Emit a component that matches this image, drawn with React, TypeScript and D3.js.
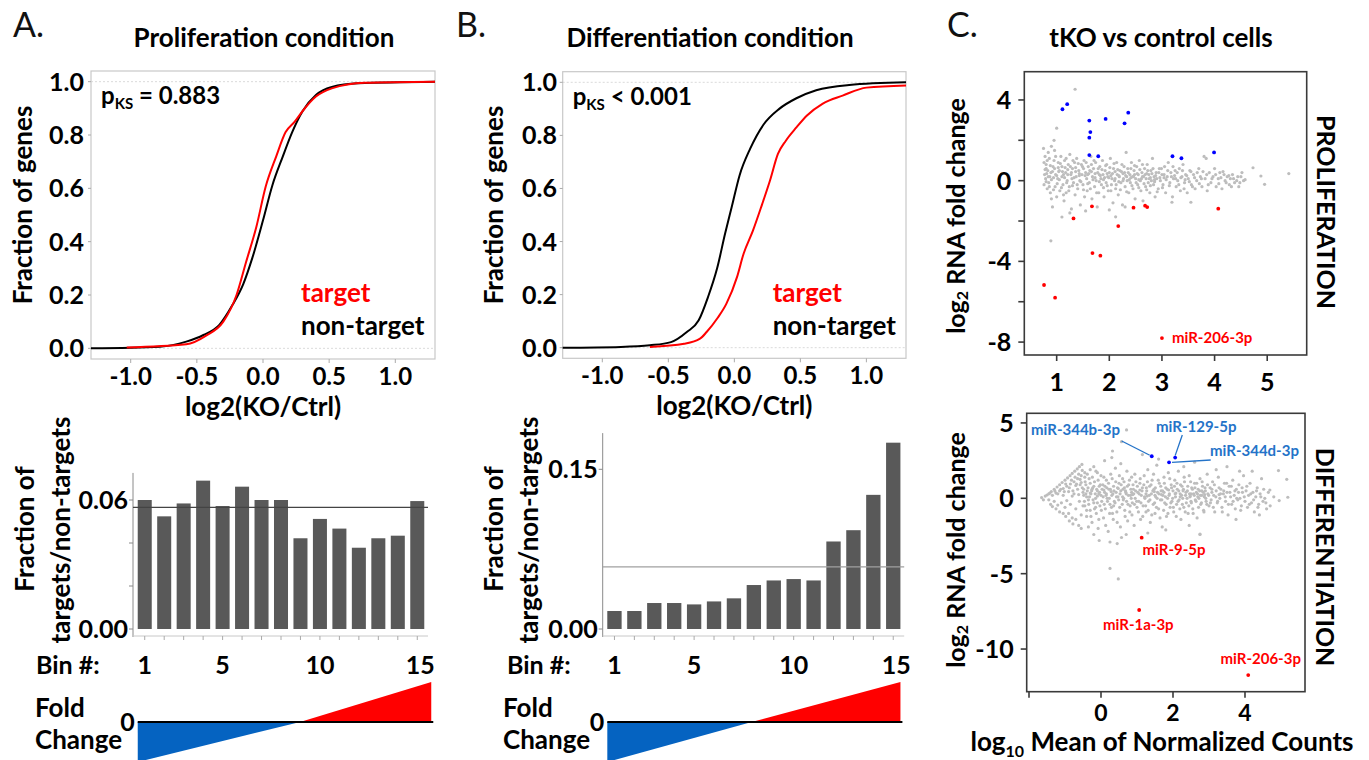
import React from 'react';
import * as d3 from 'd3';

const FONT = "Lato, 'Open Sans', sans-serif";
const RED = '#ff0000';
const BLUE_FC = '#0563c1';
const LABEL_BLUE = '#2473c8';
const GRAY_PT = '#bdbdbd';
const BAR = '#595959';

// ---- A/B: cumulative fraction of genes vs log2(KO/Ctrl) ----
const prolifNonTarget: [number, number][] = [
  [-1.3, 0], [-0.78, 0.006], [-0.58, 0.025], [-0.45, 0.05], [-0.33, 0.088], [-0.23, 0.163],
  [-0.15, 0.24], [-0.08, 0.34], [0, 0.48], [0.07, 0.61], [0.15, 0.72], [0.22, 0.81],
  [0.3, 0.89], [0.4, 0.95], [0.52, 0.98], [0.72, 0.994], [1.3, 1],
];
const prolifTarget: [number, number][] = [
  [-1.03, 0.003], [-0.58, 0.015], [-0.43, 0.048], [-0.3, 0.1], [-0.2, 0.2], [-0.13, 0.32],
  [-0.05, 0.456], [0.02, 0.606], [0.1, 0.72], [0.17, 0.81], [0.24, 0.85], [0.3, 0.89],
  [0.4, 0.944], [0.52, 0.975], [0.77, 0.996], [1.3, 1],
];
const diffNonTarget: [number, number][] = [
  [-1.3, 0], [-0.86, 0.003], [-0.64, 0.009], [-0.48, 0.021], [-0.36, 0.059], [-0.27, 0.103],
  [-0.2, 0.19], [-0.13, 0.3], [-0.07, 0.43], [-0.02, 0.53], [0.04, 0.65], [0.12, 0.75],
  [0.22, 0.84], [0.34, 0.9], [0.47, 0.94], [0.62, 0.97], [0.87, 0.99], [1.3, 1],
];
const diffTarget: [number, number][] = [
  [-0.64, 0.003], [-0.38, 0.015], [-0.26, 0.034], [-0.21, 0.059], [-0.13, 0.11], [-0.06, 0.166],
  [0.02, 0.266], [0.07, 0.354], [0.14, 0.44], [0.21, 0.54], [0.27, 0.63], [0.33, 0.73],
  [0.39, 0.78], [0.47, 0.83], [0.55, 0.875], [0.67, 0.92], [0.82, 0.95], [1.0, 0.98], [1.3, 0.988],
];
const cdfTicksX = [-1, -0.5, 0, 0.5, 1];
const cdfTicksY = [0, 0.2, 0.4, 0.6, 0.8, 1];

// ---- A/B: fraction of targets / non-targets per fold-change bin ----
const bins = [1, 2, 3, 4, 5, 6, 7, 8, 9, 10, 11, 12, 13, 14, 15];
const binLabels = [1, 5, 10, 15];
const prolifBinFraction = [0.06, 0.0524, 0.0584, 0.069, 0.0572, 0.0662, 0.06, 0.06, 0.0422, 0.0512, 0.0467, 0.0378, 0.0422, 0.0434, 0.0595];
const diffBinFraction = [0.0169, 0.0169, 0.0244, 0.0244, 0.0231, 0.0259, 0.0288, 0.0413, 0.0456, 0.0469, 0.0456, 0.0822, 0.0928, 0.126, 0.175];
const prolifOverall = 0.0566;
const diffOverall = 0.0584;

// ---- C: MA plots, [log10 mean count, log2 fold change] ----
const prolifGray: [number, number][] = [
  [0.75, 1.6], [0.78, 1.2], [0.76, 0.9], [0.8, 0.6], [0.77, 0.3], [0.79, 0.1], [0.76, -0.2], [0.82, -0.4], [0.8, 0.8], [0.84, 1.4],
  [0.86, 1.1], [0.83, 0.5], [0.87, 0.2], [0.85, -0.1], [0.88, -0.6], [0.9, -0.9], [0.92, -1.3], [0.89, 0.4], [0.93, 0.7], [0.95, 1.0],
  [0.9, 1.7], [0.96, 1.5], [0.98, 0.3], [0.97, -0.3], [1.0, -0.8], [1.02, 0.1], [1.03, 0.9], [1.05, 0.5], [1.06, -0.5], [1.08, 1.2],
  [1.1, 0.2], [1.12, -0.2], [1.1, 0.7], [1.14, -1.0], [1.15, 1.0], [1.17, 0.4], [1.18, -0.6], [1.2, 0.0], [1.22, 0.8], [1.24, -0.3],
  [1.25, 1.3], [1.27, 0.3], [1.28, -1.4], [1.3, 0.6], [1.32, -0.1], [1.34, 0.9], [1.35, -0.7], [1.37, 0.2], [1.38, 1.1], [1.4, -0.4],
  [1.42, 0.5], [1.44, 0.0], [1.45, -1.2], [1.47, 0.8], [1.48, 0.3], [1.5, -0.2], [1.52, 1.0], [1.53, -0.8], [1.55, 0.4], [1.57, 0.1],
  [1.58, -0.5], [1.6, 0.7], [1.62, -0.1], [1.63, 0.5], [1.65, 1.2], [1.67, -0.9], [1.68, 0.2], [1.7, 0.6], [1.72, -0.3], [1.74, 0.9],
  [1.75, 0.0], [1.77, -1.3], [1.78, 0.4], [1.8, -0.6], [1.82, 0.7], [1.84, 0.1], [1.85, -0.2], [1.87, 1.0], [1.88, 0.3], [1.9, -0.8],
  [1.92, 0.5], [1.94, -0.1], [1.95, 0.8], [1.97, 0.2], [1.98, -0.5], [2.0, 0.4], [2.02, 1.1], [2.04, -0.2], [2.05, 0.1], [2.07, -1.1],
  [2.08, 0.6], [2.1, 0.0], [2.12, -0.4], [2.14, 0.9], [2.15, 0.3], [2.17, -0.7], [2.19, 0.2], [2.2, 0.5], [2.22, -0.1], [2.24, 0.8],
  [2.25, -1.2], [2.27, 0.1], [2.29, 0.4], [2.3, -0.3], [2.32, 1.4], [2.34, 0.0], [2.35, 0.6], [2.37, -0.6], [2.39, 0.3], [2.4, -0.1],
  [2.42, 0.9], [2.44, 0.2], [2.45, -0.4], [2.47, 0.5], [2.49, -0.9], [2.5, 0.1], [2.52, 0.7], [2.54, -0.2], [2.55, 0.3], [2.57, 1.0],
  [2.59, 0.0], [2.6, -0.5], [2.62, 0.4], [2.64, -1.0], [2.65, 0.2], [2.67, 0.6], [2.69, -0.3], [2.7, 0.1], [2.72, 0.8], [2.74, -0.1],
  [2.75, 0.3], [2.77, -0.6], [2.79, 0.5], [2.8, 0.0], [2.82, 1.1], [2.84, -0.2], [2.85, 0.2], [2.87, -0.8], [2.89, 0.4], [2.9, 0.1],
  [2.93, -0.4], [2.95, 0.6], [2.97, 0.0], [3.0, 0.3], [3.02, -0.2], [3.05, 0.7], [3.07, -0.6], [3.1, 0.2], [3.12, 0.9], [3.15, -0.1],
  [3.17, 0.4], [3.2, -0.8], [3.22, 0.1], [3.25, 0.5], [3.27, -0.3], [3.3, 0.0], [3.33, 0.6], [3.35, -0.5], [3.38, 0.2], [3.4, 0.8],
  [3.43, -0.1], [3.45, 0.3], [3.48, -0.6], [3.5, 0.1], [3.53, 0.5], [3.56, -0.2], [3.6, 0.3], [3.63, -0.4], [3.66, 0.0], [3.7, 0.6],
  [3.73, 0.2], [3.76, -0.3], [3.8, 1.2], [3.84, 1.1], [3.82, 0.1], [3.86, -0.5], [3.9, 0.4], [3.93, -0.1], [3.97, 0.2], [4.0, 0.6],
  [4.03, -0.3], [4.07, 0.1], [4.1, 0.4], [4.14, -0.4], [4.18, 0.3], [4.2, 0.0], [4.24, 0.2], [4.28, -0.2], [4.3, 0.1], [4.34, 0.3],
  [4.38, -0.1], [4.42, 0.0], [4.46, -0.3], [4.5, 0.2], [4.55, 0.0],
  [0.81, 0.35], [0.94, 0.15], [1.04, 0.45], [1.13, 0.3], [1.21, 0.55], [1.29, 0.1], [1.36, 0.45], [1.43, 0.25], [1.51, 0.6], [1.59, 0.3],
  [1.66, 0.45], [1.73, 0.15], [1.81, 0.3], [1.89, 0.05], [1.96, 0.35], [2.03, 0.25], [2.11, 0.45], [2.18, -0.05], [2.26, 0.35], [2.33, 0.2],
  [2.41, 0.15], [2.48, 0.3], [2.56, 0.05], [2.63, 0.2], [2.71, 0.35], [2.78, 0.15], [2.86, 0.05], [3.04, 0.15], [3.24, 0.25], [3.44, 0.05],
  [0.78, 0.55], [0.8, -0.05], [0.82, 1.0], [0.84, 0.2], [0.86, -0.3], [0.88, 0.75], [0.9, 0.05], [0.92, 0.45], [0.94, -0.45], [0.96, 0.6],
  [0.98, 1.2], [1.0, 0.25], [1.01, -0.15], [1.03, 0.65], [1.05, 0.05], [1.07, 0.85], [1.09, -0.35], [1.11, 0.45], [1.13, -0.7], [1.15, 0.15],
  [1.16, 0.65], [1.18, 1.1], [1.19, -0.1], [1.21, 0.3], [1.23, -0.5], [1.26, 0.7], [1.28, 0.4], [1.3, -0.25], [1.31, 1.0], [1.33, 0.15],
  [1.36, 0.65], [1.39, -0.2], [1.41, 0.85], [1.43, 0.35], [1.46, -0.05], [1.49, 0.7], [1.51, -0.45], [1.54, 0.25], [1.56, 0.9], [1.59, -0.15],
  [1.61, 0.35], [1.64, -0.4], [1.66, 0.8], [1.69, 0.05], [1.71, 1.0], [1.73, 0.35], [1.76, -0.6], [1.79, 0.6], [1.81, -0.05], [1.83, 0.25],
  [1.86, 0.55], [1.89, -0.35], [1.91, 0.15], [1.93, 0.75], [1.96, -0.25], [1.99, 0.15], [2.01, 0.65], [2.03, -0.5], [2.06, 0.35], [2.09, 0.85],
  [2.11, 0.1], [2.13, -0.2], [2.16, 0.55], [2.18, 0.25], [2.21, -0.45], [2.23, 0.45], [2.26, 0.0], [2.28, 0.7], [2.31, 0.25], [2.33, -0.55],
  [2.36, 0.4], [2.38, 0.05], [2.41, 0.6], [2.43, -0.25], [2.46, 0.2], [2.48, 0.75], [2.51, -0.1], [2.53, 0.35], [2.56, -0.35], [2.58, 0.55],
  [2.61, 0.1], [2.63, 0.8], [2.66, -0.15], [2.68, 0.3], [2.71, -0.45], [2.73, 0.5], [2.76, 0.1], [2.78, -0.25], [2.81, 0.35], [2.83, 0.6],
  [2.86, -0.05], [2.88, 0.25], [2.91, -0.55], [2.94, 0.4], [2.96, 0.15], [2.99, 0.6], [3.01, -0.35], [3.04, 0.3], [3.08, 0.05], [3.11, 0.5],
  [3.14, -0.25], [3.18, 0.2], [3.21, 0.7], [3.26, 0.1], [3.29, 0.4], [3.32, -0.2], [3.36, 0.15], [3.39, 0.5], [3.42, -0.4], [3.47, 0.25],
  [3.52, -0.05], [3.55, 0.45], [3.58, -0.3], [3.62, 0.15], [3.67, 0.4], [3.71, -0.15], [3.75, 0.1], [3.78, 0.45], [3.85, 0.3], [3.88, -0.2],
  [3.95, 0.1], [4.02, 0.3], [4.08, -0.15], [4.12, 0.15], [4.16, 0.45], [4.22, -0.1], [4.27, 0.25], [4.32, -0.3], [4.36, 0.1], [4.44, 0.2],
  [4.48, -0.1], [4.52, 0.4], [4.58, 0.05],
  [1.35, 4.53], [1.0, 2.6], [0.95, 2.0], [0.89, -2.98], [1.1, -1.8], [4.73, 0.64], [4.88, 0.23], [4.95, -0.18], [5.41, 0.35], [3.55, -1.07],
  [3.19, -1.07], [2.12, -1.79], [1.55, -1.5], [2.0, -1.45], [2.3, -1.3], [1.25, -1.6],
];
const prolifUp: [number, number][] = [
  [1.11, 3.54], [1.2, 3.79], [1.62, 2.98], [1.93, 3.06], [2.36, 3.37], [2.29, 2.84], [1.64, 2.41],
  [1.62, 2.13], [1.62, 1.27], [1.79, 1.21], [3.2, 1.21], [3.37, 1.11], [3.99, 1.4],
];
const prolifDown: [number, number][] = [
  [1.67, -1.27], [1.32, -1.87], [2.46, -1.34], [2.68, -1.24], [2.72, -1.31], [2.17, -2.25],
  [4.07, -1.39], [1.68, -3.59], [1.83, -3.72], [0.76, -5.17], [0.97, -5.8], [3.0, -7.8],
];

const diffGray: [number, number][] = [
  // low-count fan
  [-1.65, 0.05], [-1.55, 0.15], [-1.45, 0.3], [-1.38, 0.45], [-1.3, 0.6], [-1.22, 0.75], [-1.15, 0.9], [-1.08, 1.05], [-1.0, 1.2],
  [-0.93, 1.35], [-0.86, 1.5], [-0.8, 1.65], [-0.73, 1.8], [-0.66, 1.95], [-0.6, 2.1], [-0.53, 2.25], [-1.25, 0.35], [-1.15, 0.5],
  [-1.05, 0.65], [-0.95, 0.8], [-0.85, 0.95], [-0.75, 1.1], [-0.65, 1.3], [-0.55, 1.5], [-0.45, 1.7], [-1.45, -0.1], [-1.4, -0.4],
  [-1.3, -0.2], [-1.2, -0.45], [-1.1, -0.3], [-1.0, -0.6], [-0.95, -0.15], [-0.9, -1.0], [-0.85, -0.4], [-0.8, -1.3], [-0.75, 0.3],
  [-0.7, -0.7], [-0.65, 0.6], [-0.6, -0.2], [-0.58, 0.9], [-0.55, -1.1], [-0.5, 0.4], [-1.05, 0.2], [-0.9, 0.45], [-0.8, 0.15],
  [-0.7, 0.85], [-0.62, 0.25], [-0.55, 1.05], [-0.5, -0.5], [-0.52, 0.7],
  [-1.5, 0.22], [-1.42, 0.35], [-1.35, 0.2], [-1.28, 0.48], [-1.2, 0.3], [-1.12, 0.6], [-1.02, 0.45], [-0.98, 0.95], [-0.88, 0.7],
  [-0.82, 1.2], [-0.78, 0.5], [-0.72, 1.4], [-0.68, 0.95], [-0.62, 1.6], [-0.58, 1.25], [-0.52, 1.85], [-1.6, -0.1], [-1.35, -0.55],
  [-1.25, -0.7], [-1.15, -0.9], [-1.05, -1.0], [-0.98, -1.2], [-0.88, -1.5], [-0.78, -1.7], [-0.7, -1.4], [-0.62, -1.8], [-0.55, -2.0],
  // main cloud
  [-0.48, 0.2], [-0.45, -0.5], [-0.42, 0.9], [-0.4, -1.2], [-0.38, 0.5], [-0.35, -0.1], [-0.33, 1.3], [-0.3, -0.8], [-0.28, 0.3],
  [-0.25, -1.6], [-0.23, 0.7], [-0.2, -0.3], [-0.18, 1.1], [-0.15, 0.0], [-0.13, -1.0], [-0.1, 0.5], [-0.08, -2.0], [-0.05, 0.8],
  [-0.03, -0.5], [0.0, 1.5], [0.0, 0.2], [-0.45, 1.4], [-0.3, 1.9], [-0.2, 2.1], [-0.1, 1.7], [-0.35, -1.9], [-0.2, -2.4],
  [-0.05, -2.8], [-0.4, 0.1], [-0.25, 0.6], [-0.15, -0.6], [-0.06, 0.3],
  [0.02, -0.2], [0.05, 0.9], [0.07, -1.3], [0.1, 0.4], [0.12, -0.7], [0.15, 1.2], [0.17, 0.0], [0.2, -2.2], [0.22, 0.6], [0.25, -0.4],
  [0.27, 1.6], [0.3, 0.2], [0.32, -1.0], [0.35, 0.8], [0.37, -0.2], [0.4, 2.0], [0.42, 0.4], [0.45, -1.6], [0.47, 0.1], [0.5, 1.0],
  [0.52, -0.6], [0.55, 0.5], [0.57, -2.6], [0.6, 1.3], [0.62, -0.1], [0.65, 0.7], [0.67, -1.2], [0.7, 0.3], [0.72, 1.8], [0.75, -0.4],
  [0.77, 0.9], [0.8, -0.9], [0.82, 0.2], [0.85, 1.4], [0.87, -0.3], [0.9, 0.6], [0.92, -1.8], [0.95, 0.0], [0.97, 1.1], [1.0, -0.6],
  [0.1, 2.5], [0.3, 2.7], [0.55, 2.3], [0.25, -2.9], [0.45, -3.0], [0.7, -2.4], [0.15, 0.3], [0.35, -0.5], [0.6, 0.1], [0.85, 0.4],
  [1.02, 0.4], [1.05, -0.2], [1.08, 1.0], [1.1, -1.4], [1.12, 0.2], [1.15, 0.7], [1.17, -0.5], [1.2, 1.5], [1.22, 0.0], [1.25, -0.9],
  [1.27, 0.5], [1.3, 1.9], [1.32, -0.2], [1.35, 0.8], [1.37, -1.6], [1.4, 0.3], [1.42, 1.2], [1.45, -0.4], [1.47, 0.6], [1.5, -1.0],
  [1.52, 0.1], [1.55, 2.2], [1.57, 0.4], [1.6, -0.7], [1.62, 1.0], [1.65, -0.1], [1.67, 0.5], [1.7, -1.9], [1.72, 0.2], [1.75, 1.4],
  [1.77, -0.3], [1.8, 0.7], [1.82, -1.2], [1.85, 0.0], [1.87, 1.7], [1.9, 0.3], [1.92, -0.6], [1.95, 0.9], [1.97, -0.2], [2.0, 0.5],
  [1.3, -2.3], [1.6, 2.6], [1.15, 2.9], [1.8, -2.1], [1.25, 0.3], [1.5, 0.2], [1.75, 0.4],
  [2.02, -0.9], [2.05, 1.2], [2.07, 0.1], [2.1, -0.4], [2.12, 0.6], [2.15, 1.8], [2.17, -0.1], [2.2, 0.3], [2.22, -1.4], [2.25, 0.8],
  [2.27, 0.0], [2.3, -0.6], [2.32, 1.1], [2.35, 0.2], [2.37, -0.3], [2.4, 0.5], [2.42, -1.0], [2.45, 1.5], [2.47, 0.1], [2.5, -0.2],
  [2.52, 0.7], [2.55, -0.7], [2.57, 0.3], [2.6, 1.0], [2.62, -0.1], [2.65, 0.4], [2.67, -1.3], [2.7, 0.6], [2.72, 0.0], [2.75, 1.3],
  [2.77, -0.4], [2.8, 0.2], [2.82, 0.8], [2.85, -0.8], [2.87, 0.1], [2.9, 0.5], [2.92, -0.2], [2.95, 1.6], [2.97, 0.3], [3.0, -0.5],
  [2.3, 2.1], [2.6, 2.4], [2.75, -2.4], [2.45, -1.8], [2.2, 0.1], [2.5, 0.3], [2.8, 0.5],
  [3.03, 0.7], [3.06, -0.1], [3.1, 1.1], [3.13, 0.2], [3.16, -0.9], [3.2, 0.5], [3.23, -0.3], [3.26, 1.4], [3.3, 0.0], [3.33, 0.6],
  [3.36, -0.6], [3.4, 0.3], [3.43, 1.0], [3.46, -0.2], [3.5, 0.4], [3.53, -1.1], [3.56, 0.8], [3.6, 0.1], [3.63, -0.4], [3.66, 1.2],
  [3.7, 0.2], [3.73, -0.7], [3.76, 0.6], [3.8, -0.1], [3.83, 0.9], [3.86, 0.0], [3.9, -0.5], [3.93, 0.4], [3.96, 1.5], [4.0, -0.2],
  [3.2, 1.9], [3.5, 2.1], [3.75, -1.4], [3.85, 1.8],
  [4.03, 0.5], [4.07, -0.6], [4.1, 0.2], [4.14, 1.0], [4.18, -0.3], [4.22, 0.4], [4.26, -0.9], [4.3, 0.1], [4.34, 0.7], [4.38, -0.4],
  [4.42, 0.3], [4.46, 1.3], [4.5, -0.2], [4.55, 0.0], [4.6, -0.7], [4.65, 0.4], [4.2, 1.8], [4.4, -1.1],
  [-0.3, 0.35], [-0.1, 0.15], [0.08, 0.55], [0.28, 0.45], [0.48, 0.65], [0.68, 0.5], [0.88, 0.25], [1.08, 0.55], [1.28, 0.15],
  [1.48, 0.45], [1.68, 0.25], [1.88, 0.55], [2.08, 0.35], [2.28, 0.5], [2.48, 0.15], [2.68, 0.3], [2.88, 0.25], [3.08, 0.4], [3.28, 0.25],
  [-0.48, 0.6], [-0.46, -0.2], [-0.44, 1.1], [-0.42, 0.3], [-0.4, -0.8], [-0.38, 1.6], [-0.36, 0.7], [-0.34, -0.4], [-0.32, 0.1], [-0.3, 1.0],
  [-0.28, -1.2], [-0.26, 0.5], [-0.24, 1.4], [-0.22, -0.1], [-0.2, 0.8], [-0.18, -0.7], [-0.16, 0.3], [-0.14, 1.8], [-0.12, 0.6], [-0.1, -0.3],
  [-0.08, 1.2], [-0.06, -1.4], [-0.04, 0.4], [-0.02, 0.9], [0.01, -0.8], [0.03, 0.6], [0.06, 0.1], [0.08, 1.4], [0.09, -0.4], [0.11, 0.8],
  [0.13, -1.8], [0.14, 0.2], [0.16, 0.7], [0.18, -0.2], [0.21, 1.0], [0.23, 0.0], [0.24, -1.0], [0.26, 0.6], [0.29, -0.6], [0.31, 1.3],
  [0.33, 0.3], [0.34, -1.4], [0.36, 0.5], [0.39, -0.3], [0.41, 1.1], [0.43, 0.1], [0.44, -0.9], [0.46, 0.7], [0.49, -0.1], [0.51, 1.5],
  [0.53, 0.3], [0.54, -1.9], [0.56, 0.9], [0.59, -0.4], [0.61, 0.6], [0.63, 0.0], [0.64, 1.1], [0.66, -0.8], [0.69, 0.4], [0.71, -0.2],
  [0.73, 0.8], [0.74, -1.5], [0.76, 0.2], [0.79, 1.2], [0.81, -0.5], [0.83, 0.6], [0.84, 0.0], [0.86, -1.1], [0.89, 0.9], [0.91, 0.3],
  [0.93, -0.4], [0.94, 1.6], [0.96, 0.5], [0.99, -0.2], [1.01, 0.8], [1.04, -0.9], [1.06, 0.3], [1.09, 1.3], [1.11, -0.3], [1.14, 0.5],
  [1.16, -1.2], [1.19, 0.9], [1.21, 0.1], [1.24, -0.5], [1.26, 0.7], [1.29, 1.1], [1.31, -0.8], [1.34, 0.2], [1.36, -0.1], [1.39, 0.9],
  [1.41, -1.1], [1.44, 0.5], [1.46, 1.6], [1.49, -0.3], [1.51, 0.7], [1.54, -0.6], [1.56, 0.0], [1.59, 1.2], [1.61, 0.3], [1.64, -1.3],
  [1.66, 0.8], [1.69, -0.1], [1.71, 0.5], [1.74, -0.8], [1.76, 1.0], [1.79, 0.1], [1.81, -0.4], [1.84, 0.6], [1.86, -1.0], [1.89, 0.2],
  [1.91, 1.3], [1.94, -0.3], [1.96, 0.7], [1.99, 0.0], [2.01, -0.6], [2.04, 0.8], [2.06, 0.3], [2.09, -1.2], [2.11, 1.0], [2.14, -0.2],
  [2.16, 0.5], [2.19, -0.7], [2.21, 0.9], [2.24, 0.2], [2.26, -0.4], [2.29, 0.6], [2.31, 1.4], [2.34, -0.9], [2.36, 0.4], [2.39, 0.0],
  [2.41, 0.8], [2.44, -0.5], [2.46, 0.3], [2.49, 1.1], [2.51, -0.3], [2.54, 0.6], [2.56, -1.0], [2.59, 0.2], [2.61, 0.7], [2.64, -0.2],
  [2.66, 1.0], [2.69, 0.1], [2.71, -0.6], [2.74, 0.5], [2.76, 0.2], [2.79, -0.3], [2.81, 1.1], [2.84, 0.4], [2.86, -0.9], [2.89, 0.7],
  [2.91, 0.0], [2.94, -0.4], [2.96, 0.9], [2.99, 0.2], [3.04, -0.3], [3.08, 0.6], [3.12, -0.6], [3.15, 0.9], [3.19, 0.1], [3.24, -0.2],
  [3.28, 0.7], [3.32, 0.3], [3.37, -0.9], [3.41, 0.5], [3.45, 0.1], [3.49, 1.0], [3.54, -0.4], [3.58, 0.4], [3.62, 0.8], [3.67, -0.2],
  [3.72, 0.5], [3.77, 0.0], [3.82, 0.4], [3.88, -0.8], [3.92, 0.7], [3.98, 0.1], [4.05, 0.8], [4.12, -0.4], [4.16, 0.3], [4.24, -0.1],
  [4.32, 0.5], [4.36, -0.6], [4.44, 0.1], [4.52, 0.6], [4.58, -0.3], [4.7, -0.5], [4.8, 0.1],
  [0.71, 4.54], [0.57, 3.76], [0.32, 3.14], [0.25, -4.65], [0.48, -5.35], [2.75, -2.37], [4.93, 1.84], [5.16, 1.26], [5.19, 0.07],
  [4.95, -0.15], [4.69, 0.55],
];
const diffUp: [number, number][] = [[1.41, 2.79], [2.06, 2.7], [1.89, 2.39]];
const diffDown: [number, number][] = [[1.13, -2.61], [1.06, -7.41], [4.09, -11.73]];

const bold = { fontFamily: FONT, fontWeight: 700 } as const;
const TXT = 26;
const TICK = 25;

function PanelLetter({ x, label }: { x: number; label: string }) {
  return <text x={x} y={37} fontFamily={FONT} fontSize={34} fill="#111">{label}</text>;
}

function CdfPanel({ left, right, top, bottom, nonTarget, target, title, titleX, pText, yLabelX, tickRight }: any) {
  const x = d3.scaleLinear().domain([-1.3, 1.3]).range([left, right]);
  const y = d3.scaleLinear().domain([-0.04, 1.04]).range([bottom, top]);
  const line = d3.line<[number, number]>().x(d => x(d[0])).y(d => y(d[1])).curve(d3.curveMonotoneX);
  const cx = (left + right) / 2;
  return (
    <g>
      <text x={titleX} y={47} textAnchor="middle" fontSize={TXT} {...bold}>{title}</text>
      <rect x={left} y={top} width={right - left} height={bottom - top} fill="none" stroke="#c8c8c8" strokeWidth={1.2} />
      {[0, 1].map(v => (
        <line key={v} x1={left} x2={right} y1={y(v)} y2={y(v)} stroke="#d0d0d0" strokeDasharray="2,2" strokeWidth={0.8} />
      ))}
      {cdfTicksX.map(t => (
        <g key={t}>
          <line x1={x(t)} x2={x(t)} y1={bottom} y2={bottom + 4} stroke="#aaa" />
          <text x={x(t)} y={bottom + 26} textAnchor="middle" fontSize={24} {...bold}>{t.toFixed(1)}</text>
        </g>
      ))}
      {cdfTicksY.map(t => (
        <g key={t}>
          <line x1={left - 3} x2={left} y1={y(t)} y2={y(t)} stroke="#aaa" />
          <text x={tickRight} y={y(t)} dy="0.36em" textAnchor="end" fontSize={TICK} {...bold}>{t.toFixed(1)}</text>
        </g>
      ))}
      <text x={cx} y={bottom + 57} textAnchor="middle" fontSize={TXT} {...bold}>log2(KO/Ctrl)</text>
      <text transform={`translate(${yLabelX},205) rotate(-90)`} textAnchor="middle" dominantBaseline="central" fontSize={TXT} {...bold}>Fraction of genes</text>
      <path d={line(nonTarget) || ''} fill="none" stroke="#000" strokeWidth={2} />
      <path d={line(target) || ''} fill="none" stroke={RED} strokeWidth={2} />
      <text x={left + 10} y={top + 33} fontSize={24} {...bold}>
        p<tspan fontSize={15} dy={5}>KS</tspan><tspan dy={-5}>{pText}</tspan>
      </text>
      <text x={left + 210} y={302} fontSize={TXT} fill={RED} {...bold}>target</text>
      <text x={left + 210} y={335} fontSize={TXT} {...bold}>non-target</text>
    </g>
  );
}

function BinPanel({ axisX, range, values, overall, yMax, yTop, yAxisMax, yTicks, yLabels, refColor, binLabelX, foldLabelX, zeroBin, lineEnd, yLabelX1, yLabelX2 }: any) {
  const xb = d3.scaleBand<number>().domain(bins).range(range).paddingInner(0.28).paddingOuter(0.14);
  const y = d3.scaleLinear().domain([0, yMax]).range([629, yTop]);
  const axisRight = range[1] + 1;
  // fold-change wedge: position along bins, height by relative fold change
  const binPos = d3.scaleLinear().domain([1, 15]).range([xb(1)! + xb.bandwidth() / 2, xb(15)! + xb.bandwidth() / 2]);
  const fc = d3.scaleLinear().domain([-1, 0, 1]).range([762, 722, 682]);
  const start = xb(1)!;
  const end = xb(15)! + xb.bandwidth() + (lineEnd || 0);
  const zx = binPos(zeroBin);
  return (
    <g>
      <line x1={axisX} x2={axisX} y1={y(yAxisMax)} y2={637} stroke="#8a8a8a" />
      <line x1={axisX} x2={axisRight} y1={636} y2={636} stroke="#c8c8c8" />
      {bins.map(b => (
        <line key={b} x1={xb(b)! + xb.bandwidth() / 2} x2={xb(b)! + xb.bandwidth() / 2} y1={636} y2={640} stroke="#aaa" />
      ))}
      {yTicks.map((t: number) => (
        <line key={t} x1={axisX - 4} x2={axisX} y1={y(t)} y2={y(t)} stroke="#8a8a8a" />
      ))}
      {yLabels.map((t: number) => (
        <text key={t} x={axisX - 5} y={y(t)} dy="0.36em" textAnchor="end" fontSize={TICK} {...bold}>{t.toFixed(2)}</text>
      ))}
      {bins.map((b, i) => (
        <rect key={b} x={xb(b)} y={y(values[i])} width={xb.bandwidth()} height={y(0) - y(values[i])} fill={BAR} />
      ))}
      <line x1={axisX} x2={axisRight} y1={y(overall)} y2={y(overall)} stroke={refColor} strokeWidth={1.2} />
      <text transform={`translate(${yLabelX1},529) rotate(-90)`} textAnchor="middle" dominantBaseline="central" fontSize={TXT} {...bold}>Fraction of</text>
      <text transform={`translate(${yLabelX2},530) rotate(-90)`} textAnchor="middle" dominantBaseline="central" fontSize={TXT} {...bold}>targets/non-targets</text>
      <text x={binLabelX} y={674} fontSize={TICK} {...bold}>Bin #:</text>
      {binLabels.map(b => (
        <text key={b} x={xb(b)! + xb.bandwidth() / 2 + (b === 15 ? 3 : 0)} y={674} textAnchor="middle" fontSize={TICK} {...bold}>{b}</text>
      ))}
      <text x={foldLabelX} y={717} fontSize={TXT} {...bold}>Fold</text>
      <text x={foldLabelX} y={749} fontSize={TXT} {...bold}>Change</text>
      <text x={start - 3} y={722} dy="0.36em" textAnchor="end" fontSize={TICK} {...bold}>0</text>
      <polygon points={`${start},${fc(0)} ${zx},${fc(0)} ${start},${fc(-1)}`} fill={BLUE_FC} />
      <polygon points={`${zx},${fc(0)} ${end},${fc(0)} ${end},${fc(1)}`} fill={RED} />
      <line x1={start} x2={end + 2} y1={fc(0)} y2={fc(0)} stroke="#000" strokeWidth={2} />
    </g>
  );
}

function MaFrame({ x, y, xTicks, xTickLabels, yTicks, yTickLabels, xLabelY, xFont }: any) {
  const [l, r] = x.range();
  const [b, t] = y.range();
  return (
    <g>
      <rect x={l} y={t} width={r - l} height={b - t} fill="none" stroke="#3a3a3a" strokeWidth={1.6} />
      {xTicks.map((v: number) => (
        <line key={v} x1={x(v)} x2={x(v)} y1={b} y2={b + 6} stroke="#3a3a3a" strokeWidth={1.6} />
      ))}
      {xTickLabels.map((v: number) => (
        <text key={v} x={x(v)} y={xLabelY} textAnchor="middle" fontSize={xFont || TICK} {...bold}>{v}</text>
      ))}
      {yTicks.map((v: number) => (
        <line key={v} x1={l - 6} x2={l} y1={y(v)} y2={y(v)} stroke="#3a3a3a" strokeWidth={1.6} />
      ))}
      {yTickLabels.map((v: number) => (
        <text key={v} x={l - 13} y={y(v)} dy="0.36em" textAnchor="end" fontSize={TICK} {...bold}>{v}</text>
      ))}
    </g>
  );
}

function Dots({ pts, x, y, color, r }: any) {
  return (
    <g>
      {pts.map((p: [number, number], i: number) => (
        <circle key={i} cx={x(p[0])} cy={y(p[1])} r={r} fill={color} />
      ))}
    </g>
  );
}

function MaPanels() {
  const xTop = d3.scaleLinear().domain([0.385, 5.75]).range([1024.3, 1306.7]);
  const yTop = d3.scaleLinear().domain([-8.64, 5.4]).range([355, 71.7]);
  const xBot = d3.scaleLinear().domain([-2.064, 5.667]).range([1026.7, 1305]);
  const yBot = d3.scaleLinear().domain([-12.83, 5.64]).range([691.7, 413.3]);
  const labelStyle = { fontSize: 15, ...bold };
  return (
    <g>
      <text x={1161} y={47} textAnchor="middle" fontSize={TXT} {...bold}>tKO vs control cells</text>
      <MaFrame x={xTop} y={yTop} xTicks={[1, 2, 3, 4, 5]} xTickLabels={[1, 2, 3, 4, 5]}
        yTicks={[4, 2, 0, -2, -4, -6, -8]} yTickLabels={[4, 0, -4, -8]} xLabelY={391} />
      <Dots pts={prolifGray} x={xTop} y={yTop} color={GRAY_PT} r={1.6} />
      <Dots pts={prolifUp} x={xTop} y={yTop} color="#0000ff" r={1.9} />
      <Dots pts={prolifDown} x={xTop} y={yTop} color={RED} r={1.9} />
      <text x={xTop(3.0) + 10} y={yTop(-7.8)} dy="0.35em" fill={RED} {...labelStyle}>miR-206-3p</text>
      <text transform="translate(955,216) rotate(-90)" textAnchor="middle" dominantBaseline="central" fontSize={25} {...bold}>
        log<tspan fontSize={16} dy={6}>2</tspan><tspan dy={-6}> RNA fold change</tspan>
      </text>
      <text transform="translate(1327,212) rotate(90)" textAnchor="middle" dominantBaseline="central" fontSize={25} {...bold}>PROLIFERATION</text>

      <MaFrame x={xBot} y={yBot} xTicks={[-2, 0, 2, 4]} xTickLabels={[0, 2, 4]}
        yTicks={[5, 0, -5, -10]} yTickLabels={[5, 0, -5, -10]} xLabelY={721} xFont={23} />
      <Dots pts={diffGray} x={xBot} y={yBot} color={GRAY_PT} r={1.6} />
      <Dots pts={diffUp} x={xBot} y={yBot} color="#0000ff" r={1.9} />
      <Dots pts={diffDown} x={xBot} y={yBot} color={RED} r={1.9} />
      <line x1={1121.7} y1={441} x2={xBot(1.41) - 2} y2={yBot(2.79) - 1} stroke={LABEL_BLUE} strokeWidth={1.3} />
      <line x1={1182.3} y1={435} x2={xBot(2.06)} y2={yBot(2.7) - 2} stroke={LABEL_BLUE} strokeWidth={1.3} />
      <line x1={1210.7} y1={460} x2={xBot(1.89) + 3} y2={yBot(2.39)} stroke={LABEL_BLUE} strokeWidth={1.3} />
      <text x={1031} y={435} fill={LABEL_BLUE} {...labelStyle}>miR-344b-3p</text>
      <text x={1156} y={432} fill={LABEL_BLUE} {...labelStyle}>miR-129-5p</text>
      <text x={1210} y={456} fill={LABEL_BLUE} {...labelStyle}>miR-344d-3p</text>
      <text x={1142.5} y={555} fill={RED} {...labelStyle}>miR-9-5p</text>
      <text x={1103} y={630} fill={RED} {...labelStyle}>miR-1a-3p</text>
      <text x={1220.5} y={664} fill={RED} {...labelStyle}>miR-206-3p</text>
      <text transform="translate(955,550) rotate(-90)" textAnchor="middle" dominantBaseline="central" fontSize={25} {...bold}>
        log<tspan fontSize={16} dy={6}>2</tspan><tspan dy={-6}> RNA fold change</tspan>
      </text>
      <text transform="translate(1326,557) rotate(90)" textAnchor="middle" dominantBaseline="central" fontSize={25} {...bold}>DIFFERENTIATION</text>
      <text x={1162} y={751} textAnchor="middle" fontSize={TXT} {...bold}>
        log<tspan fontSize={16} dy={6}>10</tspan><tspan dy={-6}> Mean of Normalized Counts</tspan>
      </text>
    </g>
  );
}

export default function App() {
  return (
    <div style={{ position: 'fixed', left: 0, top: 0 }}>
      <svg width={1369} height={760} style={{ display: 'block', background: '#fff' }}>
        <PanelLetter x={13} label="A." />
        <PanelLetter x={456} label="B." />
        <PanelLetter x={947} label="C." />
        <CdfPanel left={91} right={435} top={71} bottom={359} nonTarget={prolifNonTarget} target={prolifTarget}
          title="Proliferation condition" titleX={264} pText=" = 0.883" yLabelX={22} tickRight={84} />
        <CdfPanel left={562.7} right={906} top={71.7} bottom={358.3} nonTarget={diffNonTarget} target={diffTarget}
          title="Differentiation condition" titleX={710} pText=" < 0.001" yLabelX={493} tickRight={557} />
        <BinPanel axisX={133} range={[135, 427]} values={prolifBinFraction} overall={prolifOverall} yMax={0.06} yTop={500}
          yAxisMax={0.0726} yTicks={[0, 0.02, 0.04, 0.06]} yLabels={[0, 0.06]} refColor="#444" binLabelX={36} foldLabelX={35}
          zeroBin={8.98} lineEnd={7} yLabelX1={24} yLabelX2={60} />
        <BinPanel axisX={602.7} range={[604.5, 903.2]} values={diffBinFraction} overall={diffOverall} yMax={0.15} yTop={469.3}
          yAxisMax={0.184} yTicks={[0, 0.15]} yLabels={[0, 0.15]} refColor="#a0a0a0" binLabelX={507} foldLabelX={503}
          zeroBin={7.89} lineEnd={0} yLabelX1={493} yLabelX2={528} />
        <MaPanels />
      </svg>
    </div>
  );
}
